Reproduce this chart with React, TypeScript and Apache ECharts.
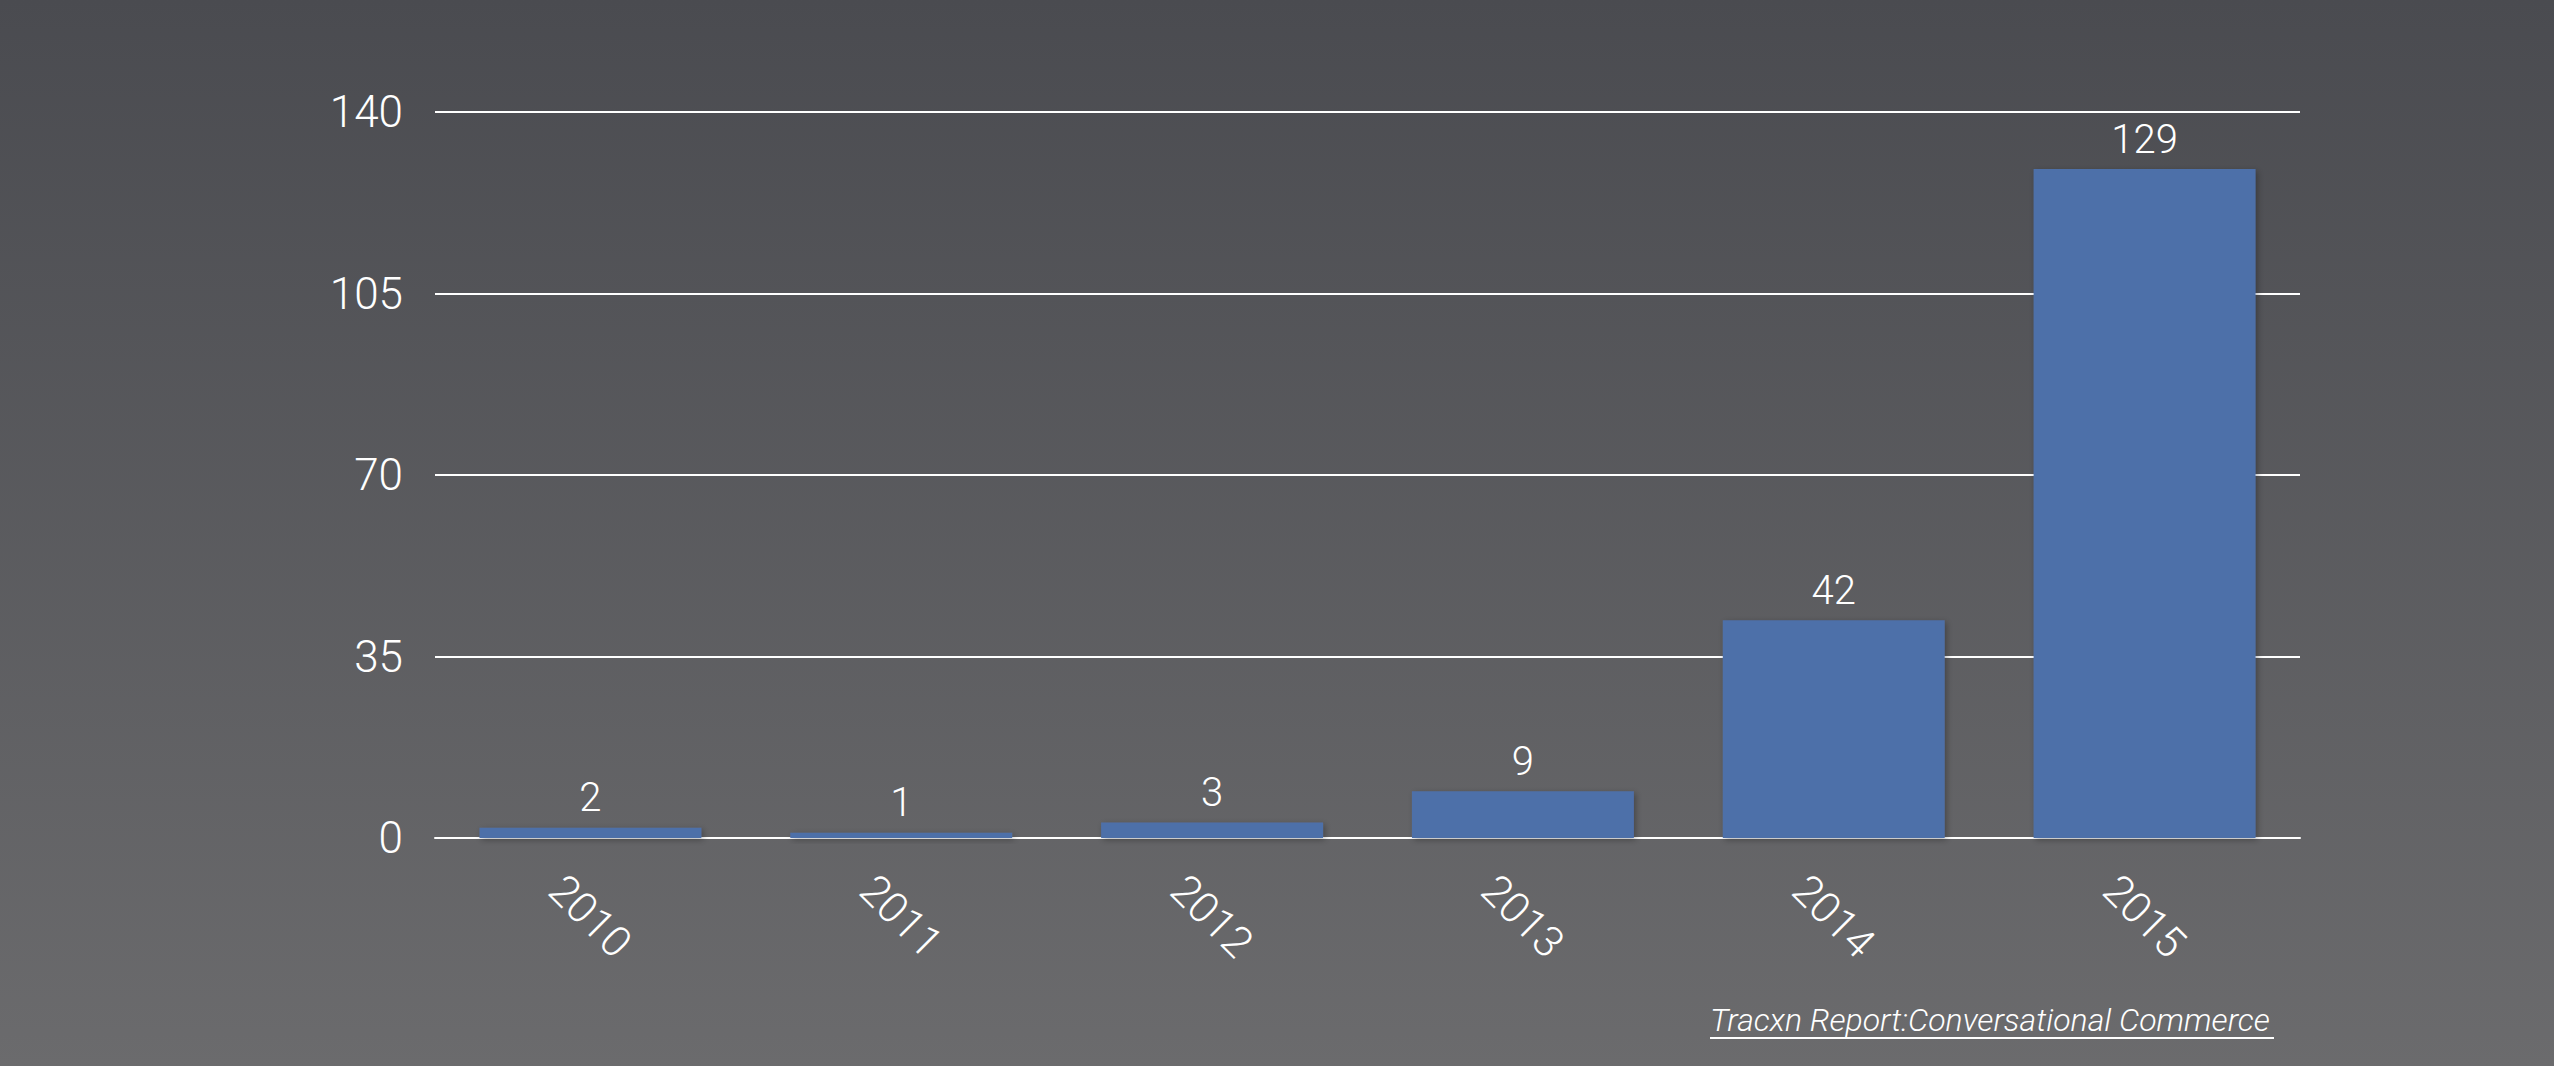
import React, { useEffect, useRef } from "react";
import * as echarts from "echarts";

const categories = ["2010", "2011", "2012", "2013", "2014", "2015"];
const values = [2, 1, 3, 9, 42, 129];
const yMin = 0;
const yMax = 140;
const yInterval = 35;
const sourceText = "Tracxn Report:Conversational Commerce";

const FONT = "Roboto, 'Open Sans', 'Liberation Sans', sans-serif";

export default function App() {
  const ref = useRef<HTMLDivElement>(null);
  useEffect(() => {
    if (!ref.current) return;
    const chart = echarts.init(ref.current, undefined, { renderer: "svg" });
    chart.setOption({
      animation: false,
      backgroundColor: {
        type: "linear",
        x: 0,
        y: 0,
        x2: 0,
        y2: 1,
        colorStops: [
          { offset: 0, color: "#4a4b50" },
          { offset: 1, color: "#6b6b6d" },
        ],
      },
      grid: { left: 435, right: 254, top: 112, bottom: 228, containLabel: false },
      xAxis: {
        type: "category",
        data: categories,
        axisLine: { show: true, lineStyle: { color: "#ffffff", width: 2 } },
        axisTick: { show: false },
        axisLabel: {
          interval: 0,
          rotate: -45,
          align: "center",
          verticalAlign: "middle",
          margin: 78,
          color: "#ffffff",
          fontSize: 43,
          fontWeight: 300,
          fontFamily: FONT,
        },
      },
      yAxis: {
        type: "value",
        min: yMin,
        max: yMax,
        interval: yInterval,
        axisLine: { show: false },
        axisTick: { show: false },
        splitLine: { lineStyle: { color: "#ffffff", width: 2 } },
        axisLabel: {
          margin: 32,
          color: "#ffffff",
          fontSize: 44,
          fontWeight: 300,
          fontFamily: FONT,
        },
      },
      series: [
        {
          type: "bar",
          data: values,
          barWidth: "71.4%",
          itemStyle: {
            color: "#4e6fa9",
            shadowColor: "rgba(0,0,0,0.3)",
            shadowBlur: 6,
            shadowOffsetX: 2,
            shadowOffsetY: 2,
          },
          label: {
            show: true,
            position: "top",
            distance: 10,
            color: "#ffffff",
            fontSize: 40,
            fontWeight: 300,
            fontFamily: FONT,
          },
        },
      ],
      graphic: [
        {
          type: "text",
          left: 1710,
          top: 1004,
          style: {
            text: sourceText,
            fill: "#ffffff",
            fontSize: 32,
            fontStyle: "italic",
            fontWeight: 300,
            fontFamily: FONT,
          },
        },
        {
          type: "line",
          shape: { x1: 1710, y1: 1038, x2: 2274, y2: 1038 },
          style: { stroke: "#ffffff", lineWidth: 2 },
        },
      ],
    });
    return () => chart.dispose();
  }, []);
  return (
    <div
      ref={ref}
      style={{ position: "fixed", left: 0, top: 0, width: 2554, height: 1066 }}
    />
  );
}
